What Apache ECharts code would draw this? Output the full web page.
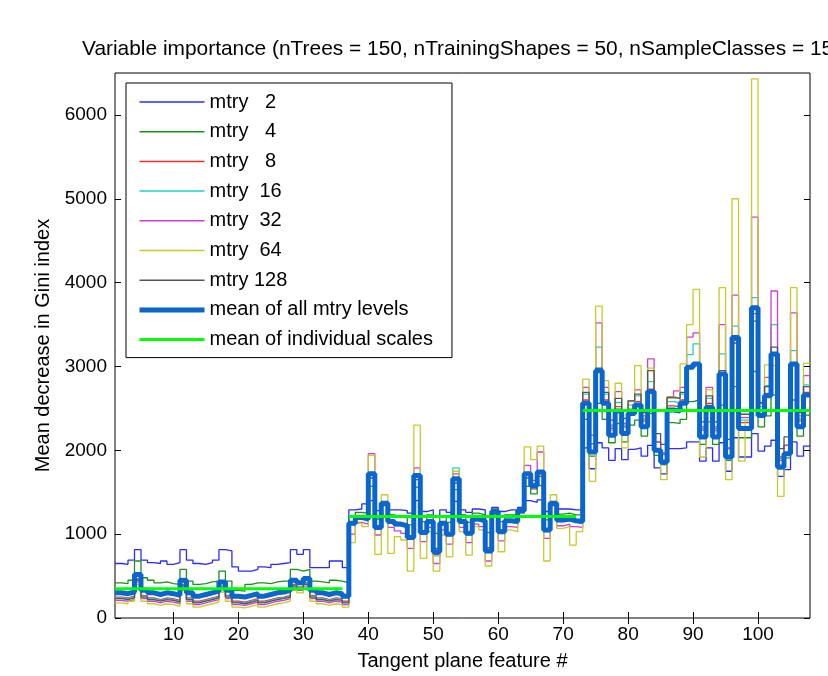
<!DOCTYPE html>
<html>
<head>
<meta charset="utf-8">
<title>Variable importance</title>
<script src="https://cdn.jsdelivr.net/npm/echarts@6.0.0/dist/echarts.min.js"></script>
<style>
  html, body { margin: 0; padding: 0; background: #fff; }
  #chart { width: 828px; height: 676px; }
</style>
</head>
<body>
<div id="chart"></div>
<script>
// feature numbers 1..108
var features = [];
for (var i = 1; i <= 108; i++) features.push(i);

var xTicks = [10, 20, 30, 40, 50, 60, 70, 80, 90, 100];
var yTicks = [0, 1000, 2000, 3000, 4000, 5000, 6000];

var seriesNames = ['mtry   2', 'mtry   4', 'mtry   8', 'mtry  16', 'mtry  32', 'mtry  64', 'mtry 128',
  'mean of all mtry levels', 'mean of individual scales'];

// values, features 1..108
var mtry2 = [
  650, 640, 690, 815, 690, 660, 650, 680, 640, 660, 815, 690, 650, 640, 660, 690, 815, 800, 610, 560,
  560, 580, 610, 600, 640, 650, 660, 815, 760, 815, 600, 600, 600, 680, 680, 600,
  1290, 1300, 1360, 1400, 1280, 1340, 1290, 1290, 1280, 1250, 1400, 1270, 1290, 1220, 1290, 1260, 1390, 1290,
  1260, 1300, 1290, 1220, 1320, 1270, 1290, 1290, 1320, 1400, 1380, 1410, 1270, 1340, 1300, 1300, 1290, 1290,
  2030, 1780, 2090, 2030, 1880, 2020, 1890, 2010, 2030, 1930, 2060, 1790, 1720, 2020, 2020, 2030, 2100, 2100,
  1870, 2030, 1870, 2090, 1750, 2150, 1920, 1920, 2200, 1990, 2050, 2120, 1690, 1770, 2100, 1930, 2050, 2050
];
var mtry4 = [
  420, 410, 450, 680, 480, 450, 420, 430, 410, 400, 580, 440, 400, 410, 430, 440, 560, 440, 330, 320,
  400, 420, 420, 410, 430, 440, 440, 580, 560, 580, 440, 430, 420, 450, 440, 420,
  1210, 1260, 1250, 1570, 1180, 1360, 1230, 1210, 1200, 1110, 1560, 1150, 1230, 1010, 1210, 1140, 1530, 1230,
  1140, 1250, 1230, 1020, 1300, 1150, 1230, 1230, 1300, 1570, 1480, 1580, 1170, 1360, 1240, 1250, 1230, 1230,
  2370, 1930, 2560, 2370, 2090, 2320, 2100, 2300, 2360, 2170, 2440, 1940, 1830, 2330, 2320, 2370, 2580, 2600,
  2070, 2340, 2070, 2540, 1880, 2760, 2150, 2150, 2940, 2280, 2410, 2660, 1780, 1910, 2600, 2170, 2420, 2420
];
var mtry8 = [
  250, 240, 260, 470, 270, 240, 220, 240, 230, 210, 400, 240, 200, 220, 240, 260, 380, 270, 200, 190,
  210, 230, 200, 220, 240, 250, 270, 400, 370, 420, 270, 240, 220, 240, 230, 200,
  1120, 1190, 1170, 1710, 1070, 1360, 1140, 1110, 1090, 950, 1690, 1010, 1140, 760, 1120, 990, 1650, 1140,
  1000, 1170, 1150, 790, 1260, 1020, 1150, 1140, 1270, 1710, 1570, 1730, 1040, 1360, 1160, 1170, 1150, 1140,
  2600, 2080, 2950, 2600, 2260, 2520, 2280, 2490, 2580, 2350, 2730, 2100, 1970, 2530, 2520, 2600, 2990, 3020,
  2240, 2560, 2240, 2920, 2030, 3310, 2330, 2330, 3630, 2470, 2680, 3130, 1920, 2060, 3020, 2350, 2690, 2690
];
var mtry16 = [
  240, 230, 250, 460, 260, 230, 210, 230, 220, 200, 390, 230, 190, 210, 230, 250, 370, 260, 190, 180,
  200, 220, 190, 210, 230, 240, 260, 390, 360, 410, 260, 230, 210, 230, 220, 190,
  1110, 1180, 1160, 1700, 1060, 1350, 1130, 1100, 1080, 940, 1680, 1000, 1130, 740, 1110, 980, 1790, 1130,
  990, 1160, 1140, 780, 1250, 1010, 1140, 1130, 1260, 1700, 1560, 1720, 1030, 1350, 1150, 1160, 1140, 1130,
  2670, 2080, 3230, 2670, 2280, 2570, 2300, 2540, 2650, 2380, 2820, 2100, 1960, 2580, 2570, 2670, 3140, 3270,
  2260, 2620, 2260, 3150, 2020, 3480, 2360, 2360, 3820, 2520, 2770, 3500, 1900, 2060, 3190, 2380, 2780, 2780
];
var mtry32 = [
  210, 200, 220, 430, 230, 200, 180, 200, 190, 170, 360, 200, 160, 180, 200, 220, 340, 230, 160, 150,
  170, 190, 160, 180, 200, 210, 230, 360, 330, 380, 230, 200, 180, 200, 190, 160,
  1000, 1140, 1120, 1960, 990, 1370, 1080, 1040, 1010, 830, 1790, 910, 1080, 650, 1050, 880, 1720, 1080,
  900, 1120, 1090, 680, 1230, 920, 1090, 1080, 1250, 1820, 1640, 1980, 950, 1370, 1100, 1120, 1090, 1080,
  2750, 2080, 3520, 2750, 2300, 2700, 2320, 2590, 2720, 2410, 3090, 2100, 1950, 2630, 2710, 2750, 3350, 3400,
  2280, 2750, 2280, 3500, 2020, 3850, 2390, 2390, 4780, 2560, 2870, 3900, 1880, 2060, 3640, 2410, 2890, 2890
];
var mtry64 = [
  180, 170, 200, 400, 200, 170, 150, 170, 160, 140, 330, 170, 130, 150, 170, 190, 310, 200, 130, 120,
  140, 160, 130, 150, 170, 180, 200, 330, 300, 350, 200, 170, 150, 170, 160, 130,
  900, 1130, 1090, 1940, 760, 1470, 770, 970, 930, 560, 2300, 710, 1030, 560, 990, 730, 1750, 1030,
  750, 1090, 1050, 620, 1270, 790, 1050, 1030, 1290, 2040, 1890, 2050, 680, 1470, 1070, 1090, 870, 1030,
  2850, 1630, 3720, 2830, 2240, 2800, 2030, 2580, 3010, 2370, 2980, 2010, 1650, 2640, 2620, 3030, 3500, 3920,
  1920, 2720, 2220, 3940, 1650, 5000, 1870, 2350, 6430, 2550, 3020, 3000, 1450, 1960, 3940, 2370, 3040, 3040
];
var mtry128 = [
  230, 220, 240, 450, 250, 220, 200, 220, 210, 190, 380, 220, 180, 200, 220, 240, 360, 250, 180, 170,
  190, 210, 180, 200, 220, 230, 250, 380, 350, 400, 250, 220, 200, 220, 210, 180,
  1140, 1200, 1180, 1670, 1090, 1350, 1150, 1130, 1110, 980, 1650, 1040, 1150, 830, 1140, 1020, 1610, 1150,
  1030, 1180, 1160, 840, 1260, 1050, 1160, 1150, 1270, 1670, 1540, 1690, 1060, 1350, 1170, 1180, 1160, 1150,
  2690, 2180, 2980, 2690, 2360, 2620, 2380, 2590, 2670, 2450, 2950, 2200, 2070, 2630, 2620, 2690, 3010, 3040,
  2340, 2650, 2340, 2950, 2130, 3280, 2430, 2430, 3540, 2570, 2760, 3230, 2020, 2160, 3040, 2450, 2760, 2760
];
var meanAll = [
  300, 290, 310, 520, 330, 300, 280, 300, 290, 270, 450, 300, 260, 280, 300, 320, 430, 330, 260, 250,
  270, 290, 260, 280, 300, 310, 330, 450, 420, 470, 330, 300, 280, 300, 290, 260,
  1130, 1200, 1180, 1720, 1080, 1370, 1150, 1120, 1100, 960, 1700, 1020, 1150, 790, 1130, 1000, 1660, 1150,
  1010, 1180, 1160, 800, 1270, 1030, 1160, 1150, 1280, 1720, 1580, 1740, 1050, 1370, 1170, 1180, 1160, 1150,
  2560, 1980, 2950, 2560, 2180, 2470, 2200, 2440, 2540, 2280, 2700, 2000, 1860, 2480, 2470, 2560, 2990, 3030,
  2160, 2515, 2160, 2910, 1920, 3345, 2260, 2260, 3700, 2415, 2650, 3150, 1800, 1960, 3030, 2280, 2660, 2660
];

// mean of individual scales: one level per block of 36 features
var scaleStart = [1, 37, 73];
var scaleEnd = [36, 72, 108];
var scaleLevel = [350, 1210, 2475];

var colors = ['#2b2bff', '#1f8f1f', '#ff2a2a', '#26cccc', '#d23cd2', '#c9c92a', '#555555', '#0a66cc', '#00ff00'];
var lineWidths = [1.3, 1.3, 1.3, 1.3, 1.3, 1.3, 1.3, 5, 3];
var fontFamily = '"Liberation Sans", Arial, sans-serif';

function pairs(values) {
  var data = [];
  for (var k = 0; k < features.length; k++) {
    data.push([features[k], values[k]]);
  }
  return data;
}

var scaleData = [];
for (var s = 0; s < scaleLevel.length; s++) {
  if (s > 0) scaleData.push([scaleStart[s] - 0.5, '-']);
  scaleData.push([scaleStart[s], scaleLevel[s]]);
  scaleData.push([scaleEnd[s], scaleLevel[s]]);
}

var mtryLists = [mtry2, mtry4, mtry8, mtry16, mtry32, mtry64, mtry128, meanAll];
var series = [];
for (var m = 0; m < mtryLists.length; m++) {
  series.push({
    name: seriesNames[m],
    type: 'line',
    step: 'end',
    symbol: 'none',
    data: pairs(mtryLists[m]),
    lineStyle: { color: colors[m], width: lineWidths[m] },
    itemStyle: { color: colors[m] }
  });
}
series.push({
  name: seriesNames[8],
  type: 'line',
  symbol: 'none',
  connectNulls: false,
  data: scaleData,
  lineStyle: { color: colors[8], width: lineWidths[8] },
  itemStyle: { color: colors[8] }
});

// legend entries carry the same line widths as the plot
var legendData = [];
for (var n = 0; n < seriesNames.length; n++) {
  legendData.push({
    name: seriesNames[n],
    lineStyle: { width: n < 7 ? 1.5 : lineWidths[n] }
  });
}

var tickStyle = { inside: true, length: 6, lineStyle: { color: '#000', width: 1 } };
// plain numbers, no thousands separator
function plain(v) { return String(v); }

var option = {
  animation: false,
  backgroundColor: '#fff',
  textStyle: { fontFamily: fontFamily },
  title: {
    text: 'Variable importance (nTrees = 150, nTrainingShapes = 50, nSampleClasses = 15)',
    left: 77,
    top: 34,
    textStyle: { fontSize: 20.9, fontWeight: 'normal', color: '#000', fontFamily: fontFamily }
  },
  grid: {
    left: 115, right: 18, top: 73, bottom: 57,
    show: true, borderColor: '#000', borderWidth: 1, backgroundColor: '#fff'
  },
  legend: {
    orient: 'vertical',
    left: 126,
    top: 83,
    padding: [9, 19, 8, 11],
    itemWidth: 65,
    itemHeight: 14,
    itemGap: 9.7,
    backgroundColor: '#fff',
    borderColor: '#000',
    borderWidth: 1,
    itemStyle: { opacity: 0 },
    data: legendData,
    textStyle: { fontSize: 20, color: '#000', fontFamily: fontFamily }
  },
  xAxis: [{
    type: 'value', min: 1, max: 108, position: 'bottom',
    name: 'Tangent plane feature #', nameLocation: 'middle', nameGap: 33,
    nameTextStyle: { fontSize: 20, color: '#000', fontFamily: fontFamily },
    axisLine: { show: false },
    splitLine: { show: false },
    axisTick: Object.assign({ customValues: xTicks }, tickStyle),
    axisLabel: { customValues: xTicks, formatter: plain, fontSize: 19, color: '#000', margin: 7, fontFamily: fontFamily }
  }, {
    type: 'value', min: 1, max: 108, position: 'top',
    axisLine: { show: false },
    splitLine: { show: false },
    axisTick: Object.assign({ customValues: xTicks }, tickStyle),
    axisLabel: { show: false }
  }],
  yAxis: [{
    type: 'value', min: 0, max: 6500, position: 'left',
    name: 'Mean decrease in Gini index', nameLocation: 'middle', nameGap: 59,
    nameTextStyle: { fontSize: 20, color: '#000', fontFamily: fontFamily },
    axisLine: { show: false },
    splitLine: { show: false },
    axisTick: Object.assign({ customValues: yTicks }, tickStyle),
    axisLabel: { customValues: yTicks, formatter: plain, fontSize: 19, color: '#000', margin: 8, fontFamily: fontFamily }
  }, {
    type: 'value', min: 0, max: 6500, position: 'right',
    axisLine: { show: false },
    splitLine: { show: false },
    axisTick: Object.assign({ customValues: yTicks }, tickStyle),
    axisLabel: { show: false }
  }],
  series: series
};

var myChart = echarts.init(document.getElementById('chart'));
myChart.setOption(option);
</script>
</body>
</html>
